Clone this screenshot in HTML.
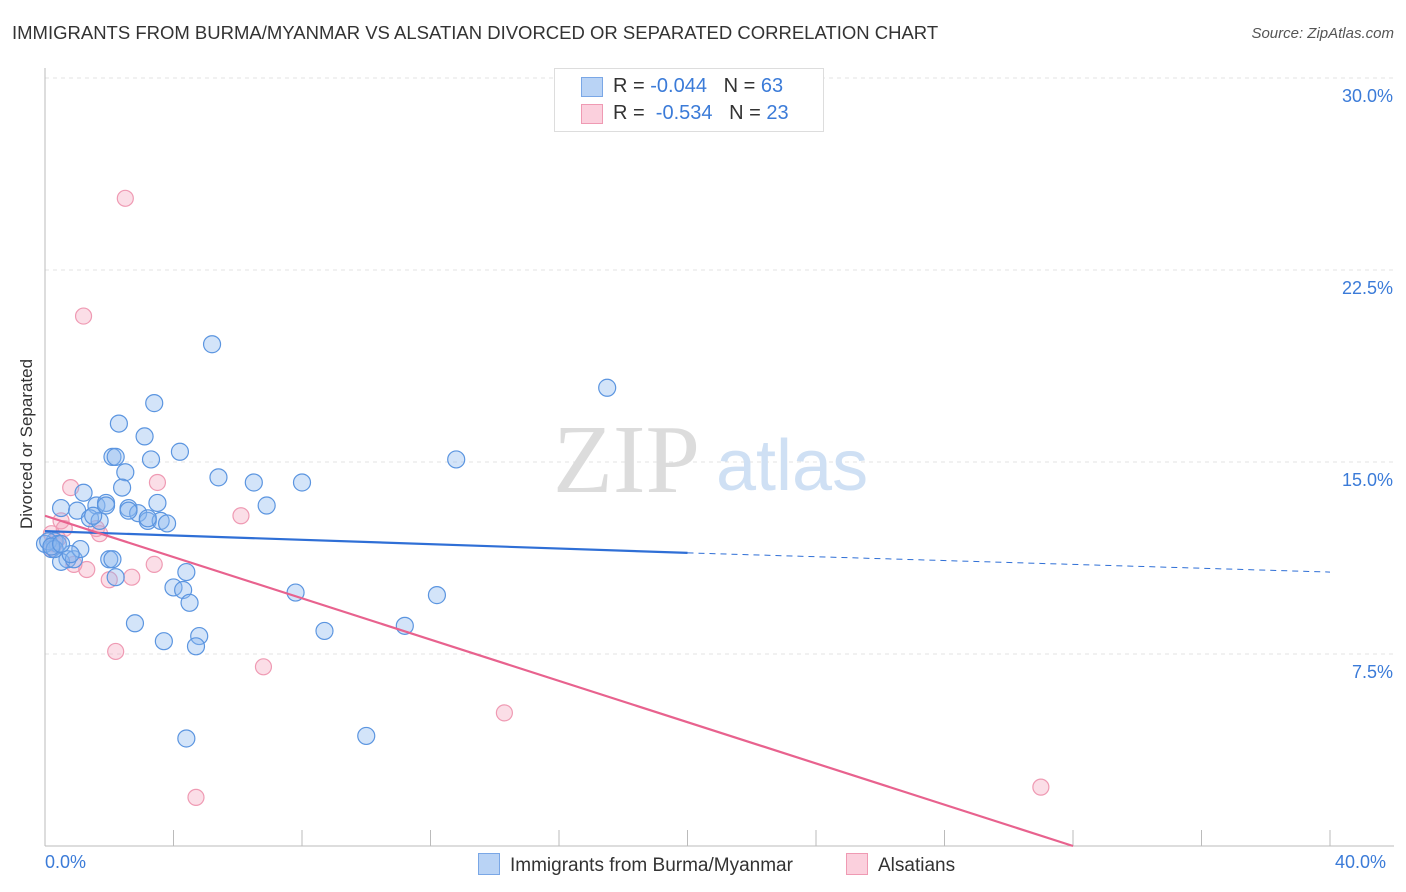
<!DOCTYPE html>
<html><head><meta charset="utf-8"><style>
body{margin:0;background:#fff;font-family:"Liberation Sans",sans-serif;}
#wrap{position:relative;width:1406px;height:892px;overflow:hidden;}
.t{position:absolute;white-space:nowrap;}
</style></head><body>
<div id="wrap">
<div class="t" style="left:12px;top:22px;font-size:18.5px;color:#333;letter-spacing:0px;">IMMIGRANTS FROM BURMA/MYANMAR VS ALSATIAN DIVORCED OR SEPARATED CORRELATION CHART</div>
<div class="t" style="right:12px;top:25px;font-size:15px;color:#555;font-style:italic;">Source: ZipAtlas.com</div>
<svg id="svg" width="1406" height="892" style="position:absolute;left:0;top:0"></svg>
</div>
<script>
const xTicks=[0,5,10,15,20,25,30,35,40];
const yTicks=[7.5,15,22.5,30];
const yTickLabels=["7.5%","15.0%","22.5%","30.0%"];
const blueX=[5.2,3.4,2.3,3.1,2.1,2.2,3.3,4.2,2.5,5.4,6.5,8.0,2.4,1.2,3.5,6.9,1.6,1.9,2.6,2.9,0.5,1.0,1.4,1.7,3.2,3.6,3.8,3.2,1.5,0.3,0.2,0.4,0.7,0.5,0.9,1.1,2.0,2.1,2.2,4.4,4.0,4.3,4.5,2.8,3.7,4.8,4.7,4.4,10.0,8.7,11.2,12.2,7.8,17.5,12.8,0.0,0.1,0.8,0.3,0.2,0.5,1.9,2.6];
const blueY=[19.6,17.3,16.5,16.0,15.2,15.2,15.1,15.4,14.6,14.4,14.2,14.2,14.0,13.8,13.4,13.3,13.3,13.4,13.2,13.0,13.2,13.1,12.8,12.7,12.7,12.7,12.6,12.8,12.9,11.9,11.6,11.8,11.2,11.1,11.2,11.6,11.2,11.2,10.5,10.7,10.1,10.0,9.5,8.7,8.0,8.2,7.8,4.2,4.3,8.4,8.6,9.8,9.9,17.9,15.1,11.8,11.9,11.4,11.6,11.7,11.8,13.3,13.1];
const pinkX=[2.5,1.2,0.8,3.5,6.1,0.5,0.6,1.6,1.7,0.3,0.2,1.3,0.9,2.0,2.7,3.4,2.2,6.8,14.3,4.7,31.0,0.2,0.4];
const pinkY=[25.3,20.7,14.0,14.2,12.9,12.7,12.4,12.4,12.2,11.8,12.2,10.8,11.0,10.4,10.5,11.0,7.6,7.0,5.2,1.9,2.3,11.6,12.0];
const blueTrend=[12.3,11.45,10.7];
const pinkTrend=[12.9,32.0];
const X=v=>45+v*32.125, Y=v=>846-v*25.6;
const svg=document.getElementById('svg'),NS='http://www.w3.org/2000/svg';
function mk(t,a,p){const e=document.createElementNS(NS,t);for(const k in a)e.setAttribute(k,a[k]);(p||svg).appendChild(e);return e;}
yTicks.forEach((v,i)=>{const g=mk('line',{x1:45,x2:1394,y1:Y(v),y2:Y(v),stroke:'#e3e3e3','stroke-dasharray':'4,4'});


const t=mk('text',{x:1393,y:Y(v)+24,'text-anchor':'end','font-size':18,fill:'#3b7bd8','font-family':'Liberation Sans'});t.textContent=yTickLabels[i];

});
const ax=mk('line',{x1:45,x2:45,y1:68,y2:846,stroke:'#bbb'});


const bx=mk('line',{x1:45,x2:1394,y1:846,y2:846,stroke:'#bbb'});


for(let i=0;i<=10;i++){const tk=mk('line',{x1:X(i*4),x2:X(i*4),y1:830,y2:846,stroke:'#bbb'});

}
const wm=mk('text',{x:553,y:492,'font-size':98,fill:'#dcdcdc','font-family':'Liberation Serif'});wm.textContent='ZIP';


const wm2=mk('text',{x:716,y:490,'font-size':72,fill:'#cfe0f4','font-family':'Liberation Sans'});wm2.textContent='atlas';


pinkX.forEach((v,i)=>{const c=mk('circle',{cx:X(v),cy:Y(pinkY[i]),r:8,fill:'rgba(244,160,185,0.35)',stroke:'#ef9ab3','stroke-width':1.2});

});
blueX.forEach((v,i)=>{const c=mk('circle',{cx:X(v),cy:Y(blueY[i]),r:8.5,fill:'rgba(140,185,238,0.38)',stroke:'#5b95e0','stroke-width':1.2});

});
const b1=mk('line',{x1:X(0),y1:Y(blueTrend[0]),x2:X(20),y2:Y(blueTrend[1]),stroke:'#2f6fd6','stroke-width':2.2});


const b2=mk('line',{x1:X(20),y1:Y(blueTrend[1]),x2:X(40),y2:Y(blueTrend[2]),stroke:'#2f6fd6','stroke-width':1,'stroke-dasharray':'6,5'});


const p1=mk('line',{x1:X(0),y1:Y(pinkTrend[0]),x2:X(pinkTrend[1]),y2:Y(0),stroke:'#e8628e','stroke-width':2.2});


</script>
<div class="t" style="left:-48px;top:444px;font-size:17px;color:#333;transform:rotate(-90deg);width:150px;text-align:center;">Divorced or Separated</div>
<div class="t" style="left:45px;top:852px;font-size:18px;color:#3b7bd8;">0.0%</div>
<div class="t" style="left:1335px;top:852px;font-size:18px;color:#3b7bd8;">40.0%</div>
<div style="position:absolute;left:554px;top:68px;width:268px;height:62px;border:1px solid #ddd;background:#fff;font-size:20px;color:#333;">
 <div style="position:absolute;left:26px;top:8px;width:20px;height:18px;background:#b9d3f5;border:1px solid #7aa7e6;"></div>
 <div class="t" style="left:58px;top:6px;">R = <span style="color:#3b7bd8">-0.044</span>&nbsp;&nbsp;&nbsp;N = <span style="color:#3b7bd8">63</span></div>
 <div style="position:absolute;left:26px;top:35px;width:20px;height:18px;background:#fbd0dd;border:1px solid #ef9ab3;"></div>
 <div class="t" style="left:58px;top:33px;">R = &nbsp;<span style="color:#3b7bd8">-0.534</span>&nbsp;&nbsp;&nbsp;N = <span style="color:#3b7bd8">23</span></div>
</div>
<div style="position:absolute;left:478px;top:853px;font-size:19px;color:#333;">
 <span style="display:inline-block;width:20px;height:20px;background:#b9d3f5;border:1px solid #7aa7e6;vertical-align:-4px;margin-right:10px;"></span>Immigrants from Burma/Myanmar</div>
<div style="position:absolute;left:846px;top:853px;font-size:19px;color:#333;">
 <span style="display:inline-block;width:20px;height:20px;background:#fbd0dd;border:1px solid #ef9ab3;vertical-align:-4px;margin-right:10px;"></span>Alsatians</div>
</body></html>
